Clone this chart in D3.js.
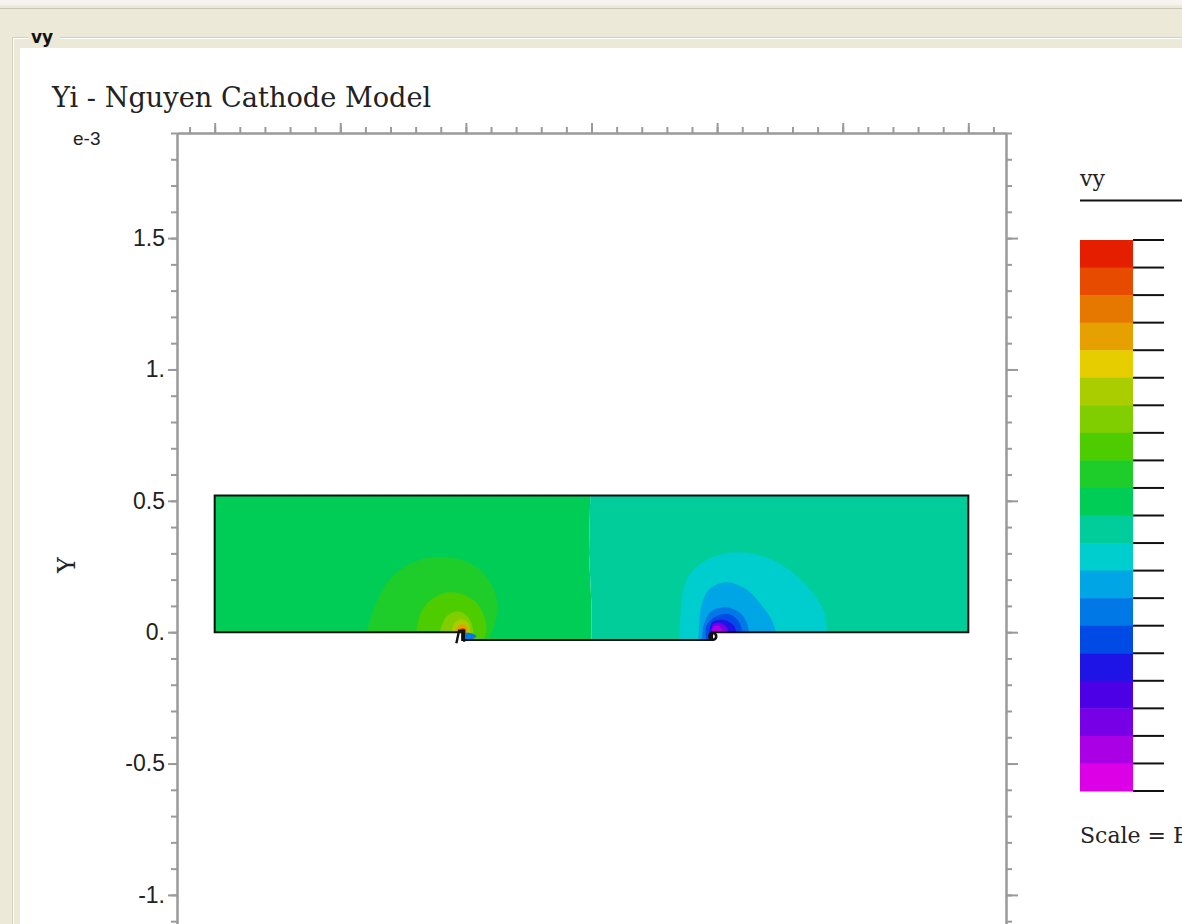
<!DOCTYPE html>
<html>
<head>
<meta charset="utf-8">
<script src="https://cdn.jsdelivr.net/npm/d3@7"></script>
<style>
  body { margin: 0; background: #ece9d8; overflow: hidden; }
  svg { display: block; }
</style>
</head>
<body>
<script>
// colour bands of the vy legend, top (highest) to bottom (lowest)
var bandColors = ["#e61e00", "#e64b00", "#e67800", "#e6a000", "#e6cd00",
  "#aacd00", "#80cd00", "#4dcd00", "#1fcd2a", "#00cd55",
  "#00cd9a", "#00cdcd", "#00a5e6", "#0078e6", "#004be6",
  "#1e14e6", "#4b00e6", "#7800e6", "#aa00e6", "#dc00e6"]

var yMajorTicks = [-1, -0.5, 0, 0.5, 1, 1.5]
var xMajorTicks = [0, 0.5, 1, 1.5, 2, 2.5, 3]

// cell outline (units e-3)
var domainOutline = [[0, 0.52], [3, 0.52], [3, 0], [1.98, 0], [1.98, -0.03],
  [0.985, -0.03], [0.985, 0], [0, 0]]

// two background zones
var baseZones = [
  { band: 9, pts: [[0, 0.52], [1.495, 0.52], [1.49, 0.3], [1.5, 0.1], [1.5, -0.03], [0, -0.03]] },
  { band: 10, pts: [[1.495, 0.52], [3, 0.52], [3, -0.03], [1.5, -0.03], [1.5, 0.1], [1.49, 0.3]] }
]

// contour bands round the two electrodes, outer first
var contours = [
  { band: 8, pts: [[0.605, 0], [0.644, 0.114], [0.708, 0.213], [0.803, 0.27], [0.867, 0.285], [0.975, 0.278], [1.054, 0.24], [1.106, 0.175], [1.126, 0.099], [1.114, 0.03], [1.094, -0.03]] },
  { band: 7, pts: [[0.803, 0], [0.827, 0.087], [0.883, 0.137], [0.947, 0.152], [1.026, 0.125], [1.066, 0.076], [1.082, 0.011], [1.07, -0.03]] },
  { band: 6, pts: [[0.895, 0], [0.923, 0.061], [0.967, 0.08], [1.006, 0.061], [1.026, 0.023], [1.03, -0.011]] },
  { band: 5, pts: [[0.943, 0], [0.955, 0.034], [0.982, 0.049], [1.01, 0.034], [1.018, 0]] },
  { band: 3, pts: [[0.955, 0], [0.967, 0.023], [0.99, 0.03], [1.006, 0.015], [1.006, 0]] },
  { band: 1, pts: [[0.971, 0], [0.982, 0.015], [0.998, 0.011], [0.998, 0]] },
  { band: 13, pts: [[1.0, -0.002], [1.022, -0.004], [1.042, -0.015], [1.022, -0.027], [0.998, -0.027]] },

  { band: 11, pts: [[1.85, -0.03], [1.854, 0.068], [1.866, 0.163], [1.897, 0.228], [1.981, 0.285], [2.088, 0.304], [2.196, 0.285], [2.299, 0.228], [2.379, 0.152], [2.426, 0.076], [2.438, 0]] },
  { band: 12, pts: [[1.925, -0.03], [1.929, 0.038], [1.937, 0.099], [1.969, 0.163], [2.037, 0.19], [2.116, 0.163], [2.18, 0.099], [2.216, 0.049], [2.235, 0]] },
  { band: 13, pts: [[1.941, -0.03], [1.945, 0.023], [1.977, 0.08], [2.037, 0.095], [2.088, 0.076], [2.116, 0.042], [2.128, 0]] },
  { band: 14, pts: [[1.957, -0.03], [1.957, 0.023], [1.997, 0.061], [2.049, 0.068], [2.088, 0.038], [2.1, 0]] },
  { band: 15, pts: [[1.969, 0], [1.981, 0.038], [2.029, 0.046], [2.068, 0.023], [2.076, 0]] },
  { band: 17, pts: [[1.975, 0], [1.985, 0.03], [2.017, 0.034], [2.041, 0.015], [2.045, 0]] },
  { band: 18, pts: [[1.977, 0], [1.989, 0.023], [2.009, 0.023], [2.025, 0]] }
]

// electrode markers
var leftMark = [[0.962, -0.042], [0.973, 0.006], [0.993, 0.006], [0.993, -0.036]]
var rightMark = [1.983, -0.016]

var width = 1182
var height = 924

var svg = d3.select("body").append("svg")
  .attr("width", width)
  .attr("height", height)

// window chrome
svg.append("rect").attr("width", width).attr("height", height).attr("fill", "#ece9d8")
svg.append("rect").attr("width", width).attr("height", 5).attr("fill", "#f5f4ee")
svg.append("line").attr("x1", 0).attr("x2", width).attr("y1", 8.5).attr("y2", 8.5)
  .attr("stroke", "#c8c5b5")
svg.append("path")
  .attr("d", "M28,37.5H12.5V924 M60,37.5H1182")
  .attr("fill", "none").attr("stroke", "#d0d0bf")
svg.append("path")
  .attr("d", "M28,38.5H13.5V924 M60,38.5H1182")
  .attr("fill", "none").attr("stroke", "#ffffff")
svg.append("text")
  .attr("x", 31).attr("y", 43)
  .attr("font-family", "DejaVu Sans").attr("font-weight", "bold").attr("font-size", "17px")
  .attr("fill", "#111")
  .text("vy")
svg.append("rect").attr("x", 20).attr("y", 48).attr("width", width - 20).attr("height", height - 48)
  .attr("fill", "#ffffff")

// title
svg.append("text")
  .attr("x", 52).attr("y", 107)
  .attr("font-family", "DejaVu Serif").attr("font-size", "27.2px")
  .attr("fill", "#222")
  .text("Yi - Nguyen Cathode Model")

var x = d3.scaleLinear().domain([-0.15, 3.15]).range([177, 1006])
var y = d3.scaleLinear().domain([-1.4, 1.9]).range([1000, 133])

var minorTicks = d3.range(-14, 20).map(function(d) { return d / 10 })
var minorX = d3.range(-1, 32).map(function(d) { return d / 10 })

function styleAxis(g) {
  g.select(".domain").attr("stroke", "#9a9a9a").attr("stroke-width", 2)
  g.selectAll(".tick line").attr("stroke", "#9a9a9a").attr("stroke-width", 2)
}

// field
var clip = svg.append("clipPath").attr("id", "cell")
var outlineLine = d3.line().x(function(d) { return x(d[0]) }).y(function(d) { return y(d[1]) })
clip.append("path").attr("d", outlineLine(domainOutline) + "Z")

var field = svg.append("g").attr("clip-path", "url(#cell)")

field.selectAll(".zone")
  .data(baseZones)
  .enter().append("path")
  .attr("d", function(d) { return outlineLine(d.pts) + "Z" })
  .attr("fill", function(d) { return bandColors[d.band] })

var arc = d3.line().curve(d3.curveCatmullRom)
  .x(function(d) { return x(d[0]) }).y(function(d) { return y(d[1]) })

field.selectAll(".band")
  .data(contours)
  .enter().append("path")
  .attr("d", function(d) {
    var first = d.pts[0], last = d.pts[d.pts.length - 1]
    return arc(d.pts) + "L" + x(last[0]) + "," + y(-0.06) + "L" + x(first[0]) + "," + y(-0.06) + "Z"
  })
  .attr("fill", function(d) { return bandColors[d.band] })

svg.append("path")
  .attr("d", outlineLine(domainOutline) + "Z")
  .attr("fill", "none").attr("stroke", "#111").attr("stroke-width", 2)

svg.append("path")
  .attr("d", outlineLine(leftMark))
  .attr("fill", "none").attr("stroke", "#111").attr("stroke-width", 2.4)
svg.append("circle")
  .attr("cx", x(rightMark[0])).attr("cy", y(rightMark[1])).attr("r", 3.4)
  .attr("fill", "none").attr("stroke", "#111").attr("stroke-width", 2.6)

// axes
var leftMinor = svg.append("g").attr("transform", "translate(177,0)")
  .call(d3.axisLeft(y).tickValues(minorTicks).tickSize(6).tickSizeOuter(0).tickFormat(""))
styleAxis(leftMinor)
var leftMajor = svg.append("g").attr("transform", "translate(177,0)")
  .call(d3.axisLeft(y).tickValues(yMajorTicks).tickSize(9).tickSizeOuter(0).tickPadding(3)
    .tickFormat(function(d) { return Number.isInteger(d) ? d + "." : String(d) }))
styleAxis(leftMajor)
leftMajor.selectAll("text")
  .attr("font-family", "Liberation Sans").attr("font-size", "23px").attr("fill", "#222")

var rightMinor = svg.append("g").attr("transform", "translate(1006,0)")
  .call(d3.axisRight(y).tickValues(minorTicks).tickSize(6).tickSizeOuter(0).tickFormat(""))
styleAxis(rightMinor)
var rightMajor = svg.append("g").attr("transform", "translate(1006,0)")
  .call(d3.axisRight(y).tickValues(yMajorTicks).tickSize(12).tickSizeOuter(0).tickFormat(""))
styleAxis(rightMajor)

var topMinor = svg.append("g").attr("transform", "translate(0,133)")
  .call(d3.axisTop(x).tickValues(minorX).tickSize(6).tickSizeOuter(0).tickFormat(""))
styleAxis(topMinor)
var topMajor = svg.append("g").attr("transform", "translate(0,133)")
  .call(d3.axisTop(x).tickValues(xMajorTicks).tickSize(10).tickSizeOuter(0).tickFormat(""))
styleAxis(topMajor)

svg.append("text")
  .attr("x", 73).attr("y", 145)
  .attr("font-family", "Liberation Sans").attr("font-size", "19px").attr("fill", "#222")
  .text("e-3")

svg.append("text")
  .attr("transform", "translate(75,565) rotate(-90)")
  .attr("text-anchor", "middle")
  .attr("font-family", "DejaVu Serif").attr("font-size", "24px").attr("fill", "#222")
  .text("Y")

// legend
svg.append("text")
  .attr("x", 1080).attr("y", 186)
  .attr("font-family", "DejaVu Serif").attr("font-size", "22px").attr("fill", "#222")
  .text("vy")
svg.append("line")
  .attr("x1", 1080).attr("x2", 1182).attr("y1", 200.5).attr("y2", 200.5)
  .attr("stroke", "#111").attr("stroke-width", 2)

var lb = d3.scaleBand().domain(d3.range(bandColors.length)).range([240, 791])
svg.selectAll(".key")
  .data(bandColors)
  .enter().append("rect")
  .attr("x", 1080).attr("width", 53)
  .attr("y", function(d, i) { return lb(i) })
  .attr("height", lb.bandwidth() + 0.5)
  .attr("fill", function(d) { return d })

var edges = d3.range(bandColors.length + 1)
svg.selectAll(".keytick")
  .data(edges)
  .enter().append("line")
  .attr("x1", 1133).attr("x2", 1164)
  .attr("y1", function(i) { return 240 + i * lb.step() })
  .attr("y2", function(i) { return 240 + i * lb.step() })
  .attr("stroke", "#111").attr("stroke-width", 2)

// the reference is cut at the window edge here too
svg.append("text")
  .attr("x", 1080).attr("y", 843)
  .attr("font-family", "DejaVu Serif").attr("font-size", "22px").attr("fill", "#222")
  .text("Scale = E-3")
</script>
</body>
</html>
